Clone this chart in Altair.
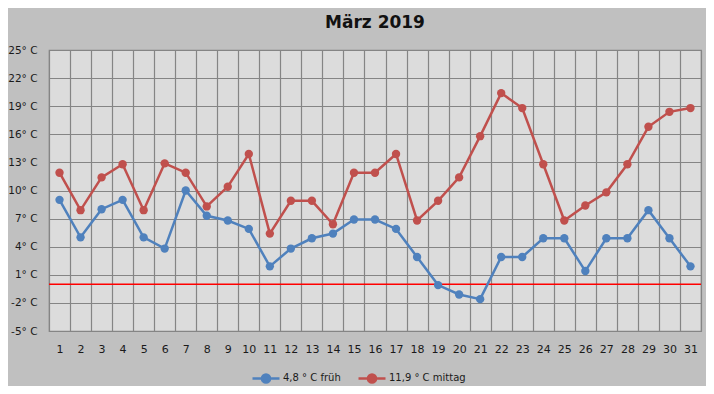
import altair as alt
import pandas as pd

days = list(range(1, 32))
frueh = [9, 5, 8, 9, 5, 3.8, 10, 7.3, 6.8, 5.9,
         1.9, 3.8, 4.9, 5.4, 6.9, 6.9, 5.9, 2.9, -0.1, -1.1,
         -1.6, 2.9, 2.9, 4.9, 4.9, 1.4, 4.9, 4.9, 7.9, 4.9, 1.9]
mittag = [11.9, 7.9, 11.4, 12.8, 7.9, 12.9, 11.9, 8.3, 10.4, 13.9,
          5.4, 8.9, 8.9, 6.4, 11.9, 11.9, 13.9, 6.8, 8.9, 11.4,
          15.8, 20.4, 18.8, 12.8, 6.8, 8.4, 9.8, 12.8, 16.8, 18.4, 18.8]
series_names = ["4,8 ° C früh", "11,9 ° C mittag"]
series_colors = ["#4f81bd", "#c0504d"]
y_ticks = [-5, -2, 1, 4, 7, 10, 13, 16, 19, 22, 25]
zero_line = [0]

df = pd.DataFrame({
    "Tag": days * 2,
    "Temp": frueh + mittag,
    "Serie": [series_names[0]] * 31 + [series_names[1]] * 31,
})

FONT = "DejaVu Sans"

x_enc = alt.X("Tag:O", title=None,
              scale=alt.Scale(paddingInner=0, paddingOuter=0),
              axis=alt.Axis(labelAngle=0, tickBand="extent", grid=True,
                            gridColor="#858585", gridWidth=1.2, ticks=False,
                            domain=False, labelPadding=12, labelFontSize=11,
                            labelColor="#1a1a1a", labelFont=FONT))
y_enc = alt.Y("Temp:Q", title=None,
              scale=alt.Scale(domain=[-5, 25], nice=False, zero=False),
              axis=alt.Axis(values=y_ticks, tickCount=20, grid=True, gridColor="#858585",
                            gridWidth=1.2, ticks=False, domain=False,
                            labelPadding=12, labelFontSize=10.5, labelOverlap=False,
                            labelColor="#1a1a1a", labelFont=FONT,
                            labelExpr="datum.value + '° C'"))
color_enc = alt.Color("Serie:N", title=None,
                      scale=alt.Scale(domain=series_names, range=series_colors),
                      legend=alt.Legend(orient="none", direction="horizontal",
                                        legendX=202, legendY=313,
                                        symbolType="M-1,0H1M-0.3,0A0.3,0.3,0,1,1,0.3,0A0.3,0.3,0,1,1,-0.3,0Z",
                                        symbolSize=729, symbolStrokeWidth=2.5,
                                        labelFontSize=10, labelFont=FONT,
                                        labelOffset=2,
                                        labelColor="#1a1a1a", columnPadding=12))

lines = alt.Chart(df).mark_line(strokeWidth=2.5).encode(x=x_enc, y=y_enc, color=color_enc)
points = alt.Chart(df).mark_circle(size=70, opacity=1).encode(x=x_enc, y=y_enc, color=color_enc)
rule = alt.Chart(pd.DataFrame({"v": zero_line})).mark_rule(color="#ff0000", strokeWidth=1.5).encode(
    y=alt.Y("v:Q", scale=alt.Scale(domain=[-5, 25], nice=False, zero=False)))

chart = alt.layer(rule, lines, points).properties(
    width=652, height=281,
    title=alt.Title("März 2019", fontSize=17, fontWeight="bold", font=FONT,
                    color="#111111", anchor="middle", offset=13),
    background="#c0c0c0",
    autosize=alt.AutoSizeParams(type="none"),
    padding={"left": 41, "top": 42, "right": 5, "bottom": 55},
).configure_view(fill="#dcdcdc", stroke="#858585", strokeWidth=1.2)

chart.save("out.html", embed_options={"renderer": "svg", "actions": False})
